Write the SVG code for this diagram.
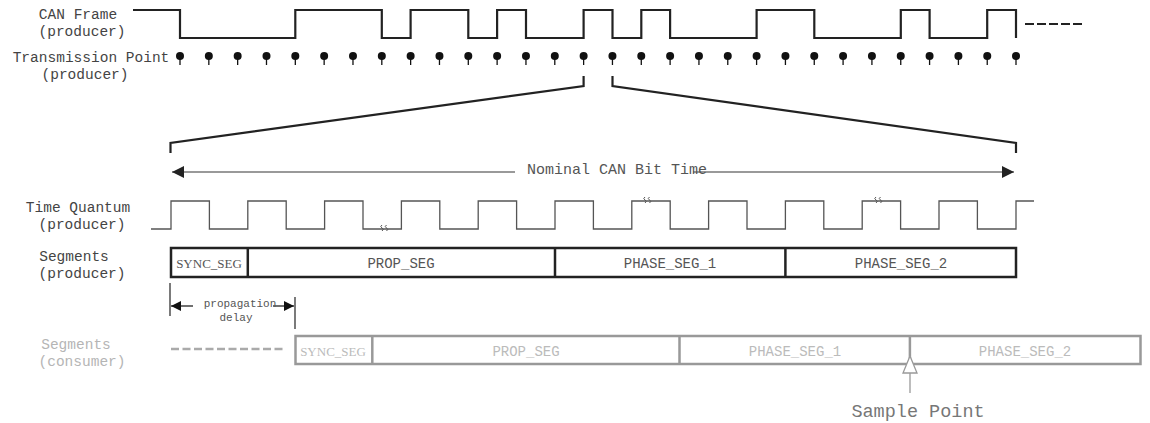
<svg xmlns="http://www.w3.org/2000/svg" width="1150" height="423" viewBox="0 0 1150 423">
<style>
.lbl{font-family:"Liberation Mono",monospace;font-size:14.5px;fill:#444;text-anchor:middle}
.lblc{font-family:"Liberation Mono",monospace;font-size:14.5px;fill:#b5b5b5;text-anchor:middle}
.seg{font-family:"Liberation Mono",monospace;font-size:14px;fill:#555;text-anchor:middle}
.segc{font-family:"Liberation Mono",monospace;font-size:14px;fill:#bbb;text-anchor:middle}
.sync{font-family:"Liberation Serif",serif;font-size:13px;fill:#555;text-anchor:middle}
.syncc{font-family:"Liberation Serif",serif;font-size:13px;fill:#bbb;text-anchor:middle}
.sig{fill:none;stroke:#222;stroke-width:2.2}
.tq{fill:none;stroke:#555;stroke-width:1.3}
.sq{fill:none;stroke:#555;stroke-width:1}
.box{fill:none;stroke:#222;stroke-width:2.5}
.boxc{fill:none;stroke:#999;stroke-width:2.5}
.dot{fill:#111}
.stem{stroke:#111;stroke-width:1.3}
</style>
<defs>
<marker id="ah" viewBox="0 0 10 10" refX="10" refY="5" markerWidth="10" markerHeight="10" markerUnits="userSpaceOnUse" orient="auto-start-reverse">
<path d="M0,0 L10,5 L0,10 Z" fill="#111"/>
</marker>
<marker id="ah2" viewBox="0 0 12 12" refX="12" refY="6" markerWidth="12" markerHeight="12" markerUnits="userSpaceOnUse" orient="auto-start-reverse">
<path d="M0,0 L12,6 L0,12 Z" fill="#222"/>
</marker>
<g id="pin"><line class="stem" x1="0" y1="56" x2="0" y2="65"/><circle class="dot" cx="0" cy="56" r="4"/></g>
<path id="squig" d="M0,3 q2.5,-1.5 0,-3 q-2.5,-1.5 0,-3 M4.5,3 q2.5,-1.5 0,-3 q-2.5,-1.5 0,-3" class="sq"/>
</defs>

<g id="labels">
<text class="lbl" x="78" y="19">CAN Frame</text>
<text class="lbl" x="82" y="36">(producer)</text>
<text class="lbl" x="91" y="62">Transmission Point</text>
<text class="lbl" x="85" y="79">(producer)</text>
<text class="lbl" x="78" y="212">Time Quantum</text>
<text class="lbl" x="82" y="229">(producer)</text>
<text class="lbl" x="74" y="261">Segments</text>
<text class="lbl" x="82" y="278">(producer)</text>
<text class="lblc" x="76" y="349">Segments</text>
<text class="lblc" x="82" y="366">(consumer)</text>
</g>

<g id="can-frame">
<path class="sig" d="M133,10 H180 V38 H295.3 V10 H381.8 V38 H410.6 V10 H468.3 V38 H497.1 V10 H526 V38 H583.6 V10 H612.5 V38 H641.3 V10 H670.1 V38 H756.6 V10 H814.3 V38 H900.8 V10 H929.6 V38 H987.2 V10 H1016 V38"/>
<line x1="1025" y1="24" x2="1082" y2="24" stroke="#222" stroke-width="2" stroke-dasharray="9,3"/>
</g>

<g id="transmission-points">
<use href="#pin" x="180"/><use href="#pin" x="208.83"/><use href="#pin" x="237.66"/><use href="#pin" x="266.49"/><use href="#pin" x="295.32"/>
<use href="#pin" x="324.15"/><use href="#pin" x="352.98"/><use href="#pin" x="381.81"/><use href="#pin" x="410.64"/><use href="#pin" x="439.47"/>
<use href="#pin" x="468.3"/><use href="#pin" x="497.13"/><use href="#pin" x="525.96"/><use href="#pin" x="554.79"/><use href="#pin" x="583.62"/>
<use href="#pin" x="612.45"/><use href="#pin" x="641.28"/><use href="#pin" x="670.11"/><use href="#pin" x="698.94"/><use href="#pin" x="727.77"/>
<use href="#pin" x="756.6"/><use href="#pin" x="785.43"/><use href="#pin" x="814.26"/><use href="#pin" x="843.09"/><use href="#pin" x="871.92"/>
<use href="#pin" x="900.75"/><use href="#pin" x="929.58"/><use href="#pin" x="958.41"/><use href="#pin" x="987.24"/><use href="#pin" x="1016"/>
</g>

<g id="connectors">
<path d="M583.6,76 V86 L170.5,143 V153" fill="none" stroke="#222" stroke-width="2.2"/>
<path d="M612.5,76 V86 L1016,143 V153" fill="none" stroke="#222" stroke-width="2.2"/>
<line x1="172" y1="172" x2="515" y2="172" stroke="#777" stroke-width="1.5" marker-start="url(#ah2)"/>
<line x1="693" y1="172" x2="1014" y2="172" stroke="#777" stroke-width="1.5" marker-end="url(#ah2)"/>
<text x="617" y="174" style="font-family:'Liberation Mono',monospace;font-size:15px;fill:#555;text-anchor:middle">Nominal CAN Bit Time</text>
<line x1="170" y1="283" x2="170" y2="316" stroke="#222" stroke-width="1.2"/>
<line x1="295" y1="297" x2="295" y2="329" stroke="#222" stroke-width="1.2"/>
<line x1="171" y1="306" x2="193" y2="306" stroke="#222" stroke-width="1.3" marker-start="url(#ah)"/>
<line x1="273" y1="306" x2="294" y2="306" stroke="#222" stroke-width="1.3" marker-end="url(#ah)"/>
<text x="240" y="307" style="font-family:'Liberation Mono',monospace;font-size:11px;fill:#555;text-anchor:middle">propagation</text>
<text x="236" y="321" style="font-family:'Liberation Mono',monospace;font-size:11px;fill:#555;text-anchor:middle">delay</text>
<line x1="171" y1="349" x2="286" y2="349" stroke="#aaa" stroke-width="2.5" stroke-dasharray="8,3.5"/>
</g>

<g id="time-quantum">
<path class="tq" d="M151,229 H171 V201 H209.4 V229 H247.8 V201 H286.2 V229 H324.6 V201 H363 V229 H401.4 V201 H439.8 V229 H478.2 V201 H516.6 V229 H555 V201 H593.4 V229 H631.8 V201 H670.2 V229 H708.6 V201 H747 V229 H785.4 V201 H823.8 V229 H862.2 V201 H900.6 V229 H939 V201 H977.4 V229 H1016 V201 H1034"/>
<use href="#squig" x="382" y="228"/>
<use href="#squig" x="645" y="200"/>
<use href="#squig" x="876" y="200"/>
</g>

<g id="segments-producer">
<rect class="box" x="171" y="248" width="845" height="29"/>
<line class="box" x1="247.8" y1="248" x2="247.8" y2="277"/>
<line class="box" x1="555" y1="248" x2="555" y2="277"/>
<line class="box" x1="785.4" y1="248" x2="785.4" y2="277"/>
<text class="sync" x="209" y="268">SYNC_SEG</text>
<text class="seg" x="401" y="268">PROP_SEG</text>
<text class="seg" x="670" y="268">PHASE_SEG_1</text>
<text class="seg" x="901" y="268">PHASE_SEG_2</text>
</g>

<g id="segments-consumer">
<rect class="boxc" x="295.5" y="336" width="845" height="28"/>
<line class="boxc" x1="372.3" y1="336" x2="372.3" y2="364"/>
<line class="boxc" x1="679.5" y1="336" x2="679.5" y2="364"/>
<line class="boxc" x1="909.9" y1="336" x2="909.9" y2="364"/>
<text class="syncc" x="333" y="356">SYNC_SEG</text>
<text class="segc" x="526" y="356">PROP_SEG</text>
<text class="segc" x="795" y="356">PHASE_SEG_1</text>
<text class="segc" x="1025" y="356">PHASE_SEG_2</text>
</g>

<g id="sample-point">
<line x1="910" y1="373" x2="910" y2="393" stroke="#999" stroke-width="1.3"/>
<polygon points="910,356 903,373 917,373" fill="#fff" stroke="#999" stroke-width="1.3"/>
<text x="918" y="417" style="font-family:'Liberation Mono',monospace;font-size:18.5px;fill:#777;text-anchor:middle">Sample Point</text>
</g>
</svg>
